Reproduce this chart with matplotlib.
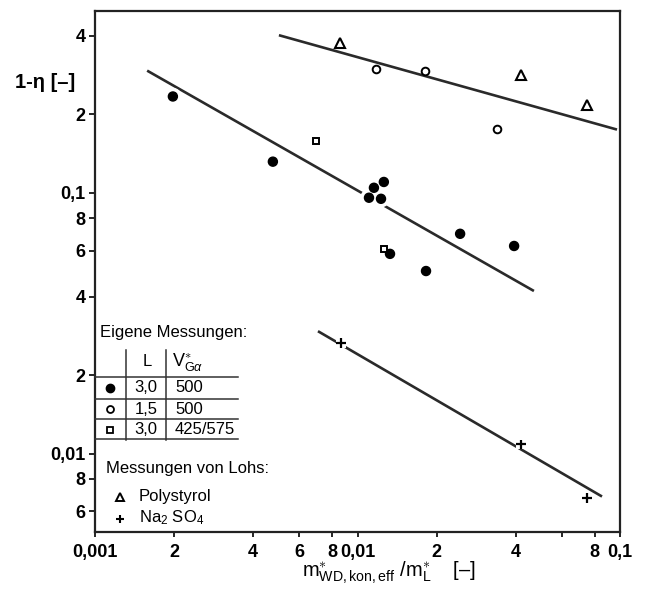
import matplotlib
matplotlib.use("Agg")
import matplotlib.pyplot as plt
import matplotlib.patheffects as pe
from matplotlib.lines import Line2D

plt.rcParams['font.family'] = ['Liberation Sans', 'DejaVu Sans']
plt.rcParams['mathtext.fontset'] = 'custom'
plt.rcParams['mathtext.rm'] = 'Liberation Sans'
plt.rcParams['mathtext.it'] = 'Liberation Sans:italic'

# --- data ---
# Eigene Messungen
full_x = [0.00198, 0.00476, 0.0126, 0.01155, 0.01106, 0.01229, 0.0246, 0.0395, 0.0133, 0.01824]
full_y = [0.234, 0.1316, 0.110, 0.1045, 0.0957, 0.0948, 0.0696, 0.0625, 0.0583, 0.0501]
open_x = [0.01176, 0.01807, 0.0340]
open_y = [0.297, 0.294, 0.175]
square_x = [0.00695, 0.0126]
square_y = [0.1585, 0.0609]
# Messungen von Lohs
poly_x = [0.00858, 0.0420, 0.0748]
poly_y = [0.374, 0.282, 0.218]
na_x = [0.00863, 0.0420, 0.0748]
na_y = [0.0265, 0.01083, 0.00677]

# fitted lines (end points)
upper_x = [0.00502, 0.0974]
upper_y = [0.402, 0.1747]
middle_x = [0.00158, 0.0470]
middle_y = [0.294, 0.042]
lower_x = [0.00707, 0.0854]
lower_y = [0.02945, 0.00684]

xticks = [0.001, 0.002, 0.004, 0.006, 0.008, 0.01, 0.02, 0.04, 0.06, 0.08, 0.1]
xticklabels = ["0,001", "2", "4", "6", "8", "0,01", "2", "4", "", "8", "0,1"]
yticks = [0.006, 0.008, 0.01, 0.02, 0.04, 0.06, 0.08, 0.1, 0.2, 0.4]
yticklabels = ["6", "8", "0,01", "2", "4", "6", "8", "0,1", "2", "4"]

table_header = ["L", r"V$^{\ast}_{\mathrm{G}\alpha}$"]
table_L = ["3,0", "1,5", "3,0"]
table_V = ["500", "500", "425/575"]

W, H = 655, 604
fig = plt.figure(figsize=(W / 100, H / 100), dpi=100)


def px(x, y):
    # pixel position (from top-left) -> figure fraction
    return x / W, 1 - y / H


ax = fig.add_axes([95 / W, 1 - 532 / H, (620 - 95) / W, (532 - 10.5) / H])
ax.set_xscale('log')
ax.set_yscale('log')
ax.set_xlim(0.001, 0.1)
ax.set_ylim(0.005, 0.5)

halo = [pe.Stroke(linewidth=6, foreground='white'), pe.Normal()]
lw = 1.9
ax.plot(upper_x, upper_y, color='#2a2a2a', lw=lw, solid_capstyle='butt', zorder=2)
ax.plot(middle_x, middle_y, color='#2a2a2a', lw=lw, solid_capstyle='butt', zorder=2)
ax.plot(lower_x, lower_y, color='#2a2a2a', lw=lw, solid_capstyle='butt', zorder=2)

ax.plot(full_x, full_y, 'o', ms=6.5, color='black', ls='none', zorder=3,
        path_effects=halo)
ax.plot(open_x, open_y, 'o', ms=5.5, mfc='white', mec='black', mew=1.4, ls='none', zorder=3)
ax.plot(square_x, square_y, 's', ms=5, mfc='white', mec='black', mew=1.4, ls='none', zorder=3)
ax.plot(poly_x, poly_y, '^', ms=7, mfc='white', mec='black', mew=1.5, ls='none', zorder=3)
ax.plot(na_x, na_y, '+', ms=7, color='black', mew=1.6, ls='none', zorder=3,
        path_effects=[pe.Stroke(linewidth=7, foreground='white'), pe.Normal()])

ax.minorticks_off()
ax.set_xticks(xticks)
ax.set_xticklabels(xticklabels)
ax.set_yticks(yticks)
ax.set_yticklabels(yticklabels)
ax.tick_params(axis='x', direction='out', length=3.5, width=1.2, pad=5,
               labelsize=13)
ax.tick_params(axis='y', direction='out', length=4, width=1.2, pad=3,
               labelsize=13)
for lab in ax.get_xticklabels() + ax.get_yticklabels():
    lab.set_fontweight('bold')
for sp in ax.spines.values():
    sp.set_linewidth(1.6)
    sp.set_color('#222222')

# axis titles
fig.text(*px(15, 83), "1-η [–]", fontsize=14.5, fontweight='bold',
         ha='left', va='center')
fig.text(*px(302, 577), r"$\mathrm{m}^{\ast}_{\mathrm{WD,kon,eff}}\ /\mathrm{m}^{\ast}_{\mathrm{L}}$    [–]",
         fontsize=14.5, ha='left', va='baseline')

# --- legend table inside the plot ---
tr = fig.transFigure
fs = 12
fig.text(*px(100, 333), "Eigene Messungen:", fontsize=fs, ha='left', va='center')
for xv in [126, 166]:
    fig.add_artist(Line2D([px(xv, 0)[0]] * 2, [px(0, 350)[1], px(0, 440)[1]],
                          transform=tr, color='#333333', lw=1.1))
for yv in [377, 399, 419, 439]:
    fig.add_artist(Line2D([px(95, 0)[0], px(238, 0)[0]], [px(0, yv)[1]] * 2,
                          transform=tr, color='#333333', lw=1.1))
fig.text(*px(147, 362), table_header[0], fontsize=fs, ha='center', va='center')
fig.text(*px(188, 362), table_header[1], fontsize=fs + 1, ha='center', va='center')
row_y = [388, 409, 430]
row_markers = [dict(marker='o', ms=6, mfc='black', mec='black'),
               dict(marker='o', ms=5, mfc='white', mec='black', mew=1.3),
               dict(marker='s', ms=5, mfc='white', mec='black', mew=1.3)]
for yv, lval, vval, mk in zip(row_y, table_L, table_V, row_markers):
    fig.add_artist(Line2D([px(110, 0)[0]], [px(0, yv)[1]], transform=tr, ls='none', **mk))
    fig.text(*px(146, yv), lval, fontsize=fs, ha='center', va='center')
    fig.text(*px(175, yv), vval, fontsize=fs, ha='left', va='center')

fig.text(*px(106, 468), "Messungen von Lohs:", fontsize=fs, ha='left', va='center')
fig.add_artist(Line2D([px(120, 0)[0]], [px(0, 497)[1]], transform=tr, ls='none',
                      marker='^', ms=6, mfc='white', mec='black', mew=1.4))
fig.text(*px(139, 496), "Polystyrol", fontsize=fs, ha='left', va='center')
fig.add_artist(Line2D([px(120, 0)[0]], [px(0, 519)[1]], transform=tr, ls='none',
                      marker='+', ms=6, color='black', mew=1.5))
fig.text(*px(139, 518), r"Na$_2$ SO$_4$", fontsize=fs, ha='left', va='center')

fig.savefig("out.png", dpi=100)
